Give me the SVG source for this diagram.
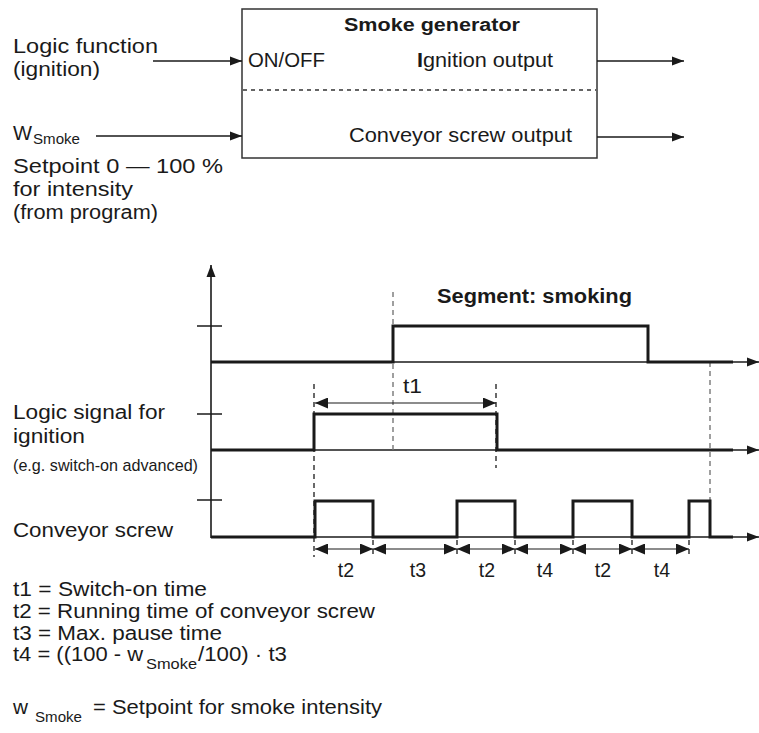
<svg xmlns="http://www.w3.org/2000/svg" width="759" height="733" viewBox="0 0 759 733">
<defs>
<style>
text{font-family:"Liberation Sans",Arial,Helvetica,sans-serif;font-size:19.5px;fill:#1a1a1a}
.b{font-weight:bold}
.sub{font-size:14px}
.sm{font-size:17px}
.box{fill:#fff;stroke:#333;stroke-width:1.5}
.sep{stroke:#333;stroke-width:1.3;stroke-dasharray:4,4;fill:none}
.arr{stroke:#1a1a1a;stroke-width:1.5;fill:none;marker-end:url(#ah)}
.axa{stroke:#1a1a1a;stroke-width:1.6;fill:none;marker-end:url(#ah)}
.sig{stroke:#1a1a1a;stroke-width:3;fill:none;stroke-linejoin:miter}
.tick{stroke:#1a1a1a;stroke-width:1.5}
.gd{stroke:#777;stroke-width:1.4;stroke-dasharray:5,4;fill:none}
.bd{stroke:#1a1a1a;stroke-width:1.3;stroke-dasharray:5,4;fill:none}
.dim{stroke:#1a1a1a;stroke-width:1.2;fill:none;marker-start:url(#dh);marker-end:url(#dh)}
</style>
<marker id="ah" markerUnits="userSpaceOnUse" markerWidth="12" markerHeight="10" refX="12" refY="5" orient="auto">
<path d="M0,0.5 L12,5 L0,9.5 z" fill="#1a1a1a"/>
</marker>
<marker id="dh" markerUnits="userSpaceOnUse" markerWidth="13" markerHeight="11" refX="13" refY="5.5" orient="auto-start-reverse">
<path d="M0,0 L13,5.5 L0,11 z" fill="#1a1a1a"/>
</marker>
</defs>
<rect width="759" height="733" fill="#fff"/>

<g id="smoke-generator">
<rect class="box" x="242" y="9" width="355" height="149"/>
<line class="sep" x1="243" y1="90" x2="596" y2="90"/>
<text class="b" x="344" y="31" style="font-size:18px" textLength="176" lengthAdjust="spacingAndGlyphs">Smoke generator</text>
<text x="248" y="67" textLength="77" lengthAdjust="spacingAndGlyphs">ON/OFF</text>
<text x="417" y="67" textLength="136" lengthAdjust="spacingAndGlyphs"><tspan class="b">I</tspan>gnition output</text>
<text x="349" y="142" textLength="223" lengthAdjust="spacingAndGlyphs">Conveyor screw output</text>
</g>

<g id="input-logic">
<text x="13" y="53" textLength="145" lengthAdjust="spacingAndGlyphs">Logic function</text>
<text x="13" y="76" textLength="87" lengthAdjust="spacingAndGlyphs">(ignition)</text>
</g>

<g id="input-setpoint">
<text x="13" y="140" textLength="19" lengthAdjust="spacingAndGlyphs">W</text>
<text class="sub" x="33" y="144" textLength="47" lengthAdjust="spacingAndGlyphs">Smoke</text>
<text x="13" y="173" textLength="210" lengthAdjust="spacingAndGlyphs">Setpoint 0 — 100 %</text>
<text x="13" y="196" textLength="120" lengthAdjust="spacingAndGlyphs">for intensity</text>
<text x="13" y="219" textLength="145" lengthAdjust="spacingAndGlyphs">(from program)</text>
</g>

<g id="connectors">
<line class="arr" x1="153" y1="61" x2="242" y2="61"/>
<line class="arr" x1="96" y1="136" x2="242" y2="136"/>
<line class="arr" x1="597" y1="61" x2="684" y2="61"/>
<line class="arr" x1="597" y1="137" x2="684" y2="137"/>
</g>

<g id="timing-diagram">
<line class="axa" x1="211" y1="538" x2="211" y2="265"/>
<line class="axa" x1="211" y1="362" x2="759" y2="362"/>
<line class="axa" x1="211" y1="450" x2="759" y2="450"/>
<line class="axa" x1="211" y1="537" x2="759" y2="537"/>
<line class="tick" x1="197" y1="326" x2="222" y2="326"/>
<line class="tick" x1="197" y1="414" x2="222" y2="414"/>
<line class="tick" x1="197" y1="500" x2="222" y2="500"/>

<line class="gd" x1="393" y1="292" x2="393" y2="450"/>
<line class="gd" x1="710" y1="362" x2="710" y2="501"/>
<line class="bd" x1="314" y1="384" x2="314" y2="557"/>
<line class="bd" x1="496" y1="384" x2="496" y2="468"/>
<line class="bd" x1="373" y1="540" x2="373" y2="557"/>
<line class="bd" x1="457" y1="540" x2="457" y2="557"/>
<line class="bd" x1="515" y1="540" x2="515" y2="557"/>
<line class="bd" x1="573" y1="540" x2="573" y2="557"/>
<line class="bd" x1="632" y1="540" x2="632" y2="557"/>
<line class="bd" x1="689" y1="540" x2="689" y2="557"/>

<polyline class="sig" points="211,362 393,362 393,326 648,326 648,362 733,362"/>
<polyline class="sig" points="211,450 314,450 314,414 497,414 497,450 733,450"/>
<polyline class="sig" points="211,537 315,537 315,501 373,501 373,537 457,537 457,501 515,501 515,537 573,537 573,501 632,501 632,537 689,537 689,501 710,501 710,537 733,537"/>

<line class="dim" x1="315" y1="403" x2="496" y2="403"/>
<line class="dim" x1="315" y1="549" x2="373" y2="549"/>
<line class="dim" x1="373" y1="549" x2="457" y2="549"/>
<line class="dim" x1="457" y1="549" x2="515" y2="549"/>
<line class="dim" x1="515" y1="549" x2="573" y2="549"/>
<line class="dim" x1="573" y1="549" x2="632" y2="549"/>
<line class="dim" x1="632" y1="549" x2="689" y2="549"/>

<text class="b" x="437" y="303" style="font-size:20px" textLength="195" lengthAdjust="spacingAndGlyphs">Segment: smoking</text>
<text x="403" y="393" textLength="19" lengthAdjust="spacingAndGlyphs">t1</text>
<text x="13" y="419" textLength="152" lengthAdjust="spacingAndGlyphs">Logic signal for</text>
<text x="13" y="443" textLength="72" lengthAdjust="spacingAndGlyphs">ignition</text>
<text class="sm" x="13" y="471" textLength="185" lengthAdjust="spacingAndGlyphs">(e.g. switch-on advanced)</text>
<text x="13" y="537" textLength="160" lengthAdjust="spacingAndGlyphs">Conveyor screw</text>
<g text-anchor="middle">
<text x="346" y="577">t2</text>
<text x="418" y="577">t3</text>
<text x="487" y="577">t2</text>
<text x="545" y="577">t4</text>
<text x="603" y="577">t2</text>
<text x="662" y="577">t4</text>
</g>
</g>

<g id="legend">
<text x="13" y="596" textLength="194" lengthAdjust="spacingAndGlyphs">t1 = Switch-on time</text>
<text x="13" y="618" textLength="362" lengthAdjust="spacingAndGlyphs">t2 = Running time of conveyor screw</text>
<text x="13" y="640" textLength="209" lengthAdjust="spacingAndGlyphs">t3 = Max. pause time</text>
<text x="13" y="661" textLength="130" lengthAdjust="spacingAndGlyphs">t4 = ((100 - w</text>
<text class="sub" x="146" y="669" textLength="51" lengthAdjust="spacingAndGlyphs">Smoke</text>
<text x="198" y="661" textLength="89" lengthAdjust="spacingAndGlyphs">/100) · t3</text>
<text x="13" y="714" textLength="15" lengthAdjust="spacingAndGlyphs">w</text>
<text class="sub" x="35" y="722" textLength="47" lengthAdjust="spacingAndGlyphs">Smoke</text>
<text x="93" y="714" textLength="289" lengthAdjust="spacingAndGlyphs">= Setpoint for smoke intensity</text>
</g>
</svg>
